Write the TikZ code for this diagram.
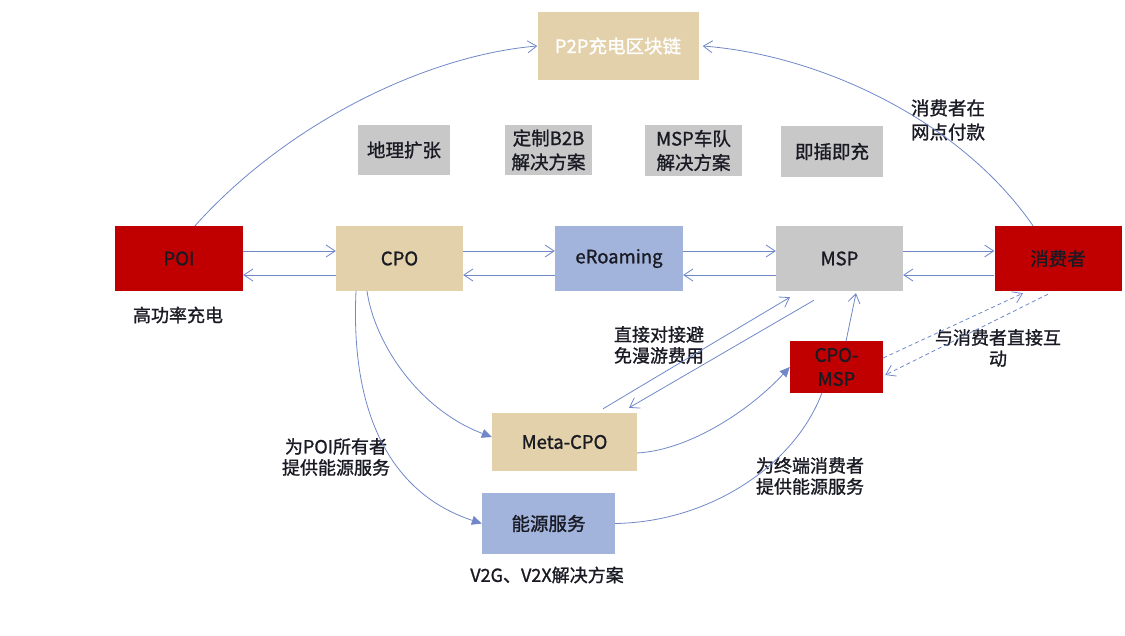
\documentclass[tikz,border=0pt]{standalone}
\usepackage{fontspec}
\setmainfont{Noto Sans CJK SC}[FakeBold=1.2]
\usetikzlibrary{arrows.meta}
\definecolor{tanc}{HTML}{E2D1AA}
\definecolor{grayc}{HTML}{C8C8C8}
\definecolor{bluec}{HTML}{A2B4DC}
\definecolor{redc}{HTML}{C00000}
\definecolor{linec}{HTML}{7088C8}
\definecolor{txtc}{HTML}{1A1A24}
\tikzset{
  box/.style={inner sep=0pt, align=center, text=txtc, font=\fontsize{18.5}{24}\selectfont},
  tanbox/.style={box, fill=tanc},
  graybox/.style={box, fill=grayc},
  bluebox/.style={box, fill=bluec},
  redbox/.style={box, fill=redc},
  lbl/.style={align=center, text=txtc, inner sep=0pt, font=\fontsize{18}{21}\selectfont},
  arr/.style={draw=linec, line width=0.8pt, -{Straight Barb[length=9pt,width=12pt]}},
  farr/.style={draw=linec, line width=0.8pt, -{Triangle[length=10pt,width=9pt]}},
  plain/.style={draw=linec, line width=0.8pt},
  darr/.style={arr, dash pattern=on 4pt off 3pt}
}
\begin{document}
\begin{tikzpicture}[x=1pt,y=-1pt]
\useasboundingbox (0,0) rectangle (1125,636);
% boxes
\node[tanbox, minimum width=161pt, minimum height=68pt, text=white] (p2p) at (618,46) {P2P充电区块链};
\node[graybox, minimum width=92pt, minimum height=50pt] (geo) at (404,150) {地理扩张};
\node[graybox, minimum width=87pt, minimum height=50pt] (b2b) at (548.5,150) {定制B2B\\解决方案};
\node[graybox, minimum width=97pt, minimum height=51pt] (fleet) at (693.5,150.5) {MSP车队\\解决方案};
\node[graybox, minimum width=102pt, minimum height=51pt] (plug) at (832,151.5) {即插即充};
\node[redbox, minimum width=128pt, minimum height=65pt] (poi) at (179,258.5) {POI};
\node[tanbox, minimum width=127pt, minimum height=65pt] (cpo) at (399.5,258.5) {CPO};
\node[bluebox, minimum width=128pt, minimum height=65pt] (eroam) at (619,258.5) {eRoaming};
\node[graybox, minimum width=127pt, minimum height=65pt] (msp) at (839.5,258.5) {MSP};
\node[redbox, minimum width=127pt, minimum height=65pt] (cons) at (1058,258.5) {消费者};
\node[redbox, minimum width=93pt, minimum height=51pt] (cpomsp) at (836.5,367) {CPO-\\MSP};
\node[tanbox, minimum width=145pt, minimum height=58pt] (meta) at (564.5,442) {Meta-CPO};
\node[bluebox, minimum width=133pt, minimum height=61pt] (energy) at (548.5,523.5) {能源服务};
% labels
\node[lbl] (l1) at (178,315) {高功率充电};
\node[lbl] (l2) at (547,575) {V2G、V2X解决方案};
\node[lbl, font=\fontsize{18.5}{24}\selectfont] (l3) at (948,120) {消费者在\\网点付款};
\node[lbl] (l4) at (659,345) {直接对接避\\免漫游费用};
\node[lbl] (l5) at (336,457) {为POI所有者\\提供能源服务};
\node[lbl] (l6) at (810,476) {为终端消费者\\提供能源服务};
\node[lbl] (l7) at (998,348) {与消费者直接互\\动};
% horizontal pairs
\draw[arr] ([yshift=7.5pt]poi.east) -- ([yshift=7.5pt]cpo.west);
\draw[arr] ([yshift=-16.5pt]cpo.west) -- ([yshift=-16.5pt]poi.east);
\draw[arr] ([yshift=7.5pt]cpo.east) -- ([yshift=7.5pt]eroam.west);
\draw[arr] ([yshift=-16.5pt]eroam.west) -- ([yshift=-16.5pt]cpo.east);
\draw[arr] ([yshift=7.5pt]eroam.east) -- ([yshift=7.5pt]msp.west);
\draw[arr] ([yshift=-16.5pt]msp.west) -- ([yshift=-16.5pt]eroam.east);
\draw[arr] ([yshift=7.5pt]msp.east) -- ([yshift=7.5pt]cons.west);
\draw[arr] ([yshift=-16.5pt]cons.west) -- ([yshift=-16.5pt]msp.east);
% to P2P
\draw[arr] ([xshift=16pt]poi.north) .. controls (290,120) and (430,55) .. (p2p.west);
\draw[arr] ([xshift=-25pt]cons.north) .. controls (960,120) and (820,55) .. ([xshift=4pt]p2p.east);
% from CPO
\draw[farr] ([xshift=-32.5pt]cpo.south) .. controls (375,345) and (420,410) .. ([yshift=5pt]meta.west);
\draw[farr] ([xshift=-43.5pt]cpo.south) .. controls (350,420) and (395,495) .. (energy.west);
% Meta-CPO <-> MSP
\draw[arr] ([xshift=38.5pt,yshift=4pt]meta.north) -- ([xshift=-49.5pt,yshift=-6pt]msp.south);
\draw[arr] ([xshift=-25.5pt,yshift=-9pt]msp.south) -- ([xshift=64.5pt,yshift=5pt]meta.north);
% to CPO-MSP
\draw[farr] ([yshift=-11pt]meta.east) .. controls (690,450) and (750,410) .. (cpomsp.west);
\draw[plain] (energy.east) .. controls (710,522) and (795,465) .. ([xshift=-14.5pt]cpomsp.south);
\draw[arr] ([xshift=9.5pt]cpomsp.north) -- ([xshift=16.5pt,yshift=-2pt]msp.south);
% dashed
\draw[darr] ([yshift=9pt]cpomsp.east) -- ([xshift=-35pt,yshift=-2pt]cons.south);
\draw[darr] ([xshift=-10pt,yshift=-3pt]cons.south) -- ([xshift=2pt,yshift=-8pt]cpomsp.east);
\end{tikzpicture}
\end{document}
